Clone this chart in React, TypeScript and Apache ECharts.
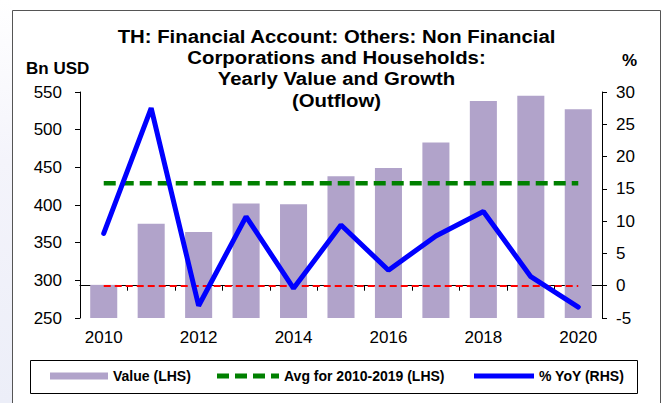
import React, { useEffect, useRef } from "react";
import * as echarts from "echarts";

const categories = ["2010", "2011", "2012", "2013", "2014", "2015", "2016", "2017", "2018", "2019", "2020"];
const valueBn = [294, 375, 364, 402, 401, 438, 449, 483, 538, 545, 527];
const yoyPct = [8.1, 27.5, -3.1, 10.7, -0.4, 9.4, 2.4, 7.7, 11.5, 1.4, -3.3];
const avgValue = 429;
const avgLine = categories.map(() => avgValue);
const leftTicks = { min: 250, max: 550, interval: 50 };
const rightTicks = { min: -5, max: 30, interval: 5 };

const titleText = "TH: Financial Account: Others: Non Financial\nCorporations and Households:\nYearly Value and Growth\n(Outflow)";
const FONT = "'Liberation Sans', Arial, Helvetica, sans-serif";

export default function App() {
  const ref = useRef<HTMLDivElement>(null);
  useEffect(() => {
    if (!ref.current) return;
    const chart = echarts.init(ref.current, null, { renderer: "svg" });
    const legendText = { fontFamily: FONT, fontSize: 14, fontWeight: "bold", color: "#000" };
    chart.setOption({
      animation: false,
      backgroundColor: "#fff",
      grid: { left: 80, right: 65, top: 92, bottom: 85, containLabel: false },
      graphic: [
        {
          type: "rect",
          shape: { x: 0, y: 0, width: 12, height: 403 },
          style: {
            fill: new echarts.graphic.LinearGradient(0, 0, 0, 1, [
              { offset: 0, color: "#ffffff" },
              { offset: 0.4, color: "#f4f4fb" },
              { offset: 1, color: "#eceef8" },
            ]),
          },
          silent: true,
        },
        {
          type: "rect",
          shape: { x: 12.5, y: 10.5, width: 648, height: 420 },
          style: { fill: "none", stroke: "#555", lineWidth: 1 },
          silent: true,
        },
        {
          type: "rect",
          shape: { x: 30.5, y: 360.5, width: 607, height: 33 },
          style: { fill: "none", stroke: "#000", lineWidth: 1 },
          silent: true,
        },
        {
          type: "text",
          x: 336.5,
          y: 25.5,
          scaleX: 1.1,
          style: {
            text: titleText,
            fontFamily: FONT,
            fontSize: 18.5,
            fontWeight: "bold",
            lineHeight: 21.3,
            fill: "#000",
            align: "center",
            verticalAlign: "top",
          },
        },
        {
          type: "text",
          x: 26,
          y: 68,
          style: {
            text: "Bn USD",
            fontFamily: FONT,
            fontSize: 17,
            fontWeight: "bold",
            fill: "#000",
            align: "left",
            verticalAlign: "middle",
          },
        },
        {
          type: "text",
          x: 622,
          y: 60,
          style: {
            text: "%",
            fontFamily: FONT,
            fontSize: 17,
            fontWeight: "bold",
            fill: "#000",
            align: "left",
            verticalAlign: "middle",
          },
        },
      ],
      legend: [
        {
          left: 50,
          top: 369,
          padding: 0,
          itemWidth: 58,
          itemHeight: 7,
          symbolKeepAspect: false,
          textStyle: legendText,
          data: [{ name: "Value (LHS)", icon: "rect", itemStyle: { color: "#b1a3ca", borderWidth: 0 } }],
        },
        {
          left: 217,
          top: 369,
          padding: 0,
          itemWidth: 62,
          itemHeight: 5,
          symbolKeepAspect: false,
          textStyle: legendText,
          data: [
            {
              name: "Avg for 2010-2019 (LHS)",
              icon: "path://M0,0H12V5H0Z M18,0H30V5H18Z M36,0H48V5H36Z M54,0H62V5H54Z",
              itemStyle: { color: "#008000", borderWidth: 0 },
            },
          ],
        },
        {
          left: 474,
          top: 369,
          padding: 0,
          itemWidth: 60,
          itemHeight: 5,
          symbolKeepAspect: false,
          textStyle: legendText,
          data: [{ name: "% YoY (RHS)", icon: "rect", itemStyle: { color: "#0000ff", borderWidth: 0 } }],
        },
      ],
      xAxis: {
        type: "category",
        data: categories,
        boundaryGap: true,
        axisLine: { lineStyle: { color: "#000", width: 1 } },
        axisTick: { show: true, interval: 0, length: 5, lineStyle: { color: "#000" } },
        axisLabel: { interval: 1, margin: 11, fontFamily: FONT, fontSize: 17, color: "#000" },
        splitLine: { show: false },
      },
      yAxis: [
        {
          type: "value",
          position: "left",
          min: leftTicks.min,
          max: leftTicks.max,
          interval: leftTicks.interval,
          axisLine: { show: true, lineStyle: { color: "#000", width: 1 } },
          axisTick: { show: true, length: 5, lineStyle: { color: "#000" } },
          axisLabel: { margin: 18, fontFamily: FONT, fontSize: 17, color: "#000" },
          splitLine: { show: false },
        },
        {
          type: "value",
          position: "right",
          min: rightTicks.min,
          max: rightTicks.max,
          interval: rightTicks.interval,
          axisLine: { show: true, lineStyle: { color: "#000", width: 1 } },
          axisTick: { show: true, length: 5, lineStyle: { color: "#000" } },
          axisLabel: { margin: 14, fontFamily: FONT, fontSize: 17, color: "#000" },
          splitLine: { show: false },
        },
      ],
      series: [
        {
          name: "Value (LHS)",
          type: "bar",
          yAxisIndex: 0,
          data: valueBn,
          barCategoryGap: "43%",
          itemStyle: { color: "#b1a3ca" },
          z: 2,
        },
        {
          name: "Avg for 2010-2019 (LHS)",
          type: "line",
          yAxisIndex: 0,
          data: avgLine,
          symbol: "none",
          lineStyle: { color: "#008000", width: 4.5, type: [12, 6] },
          itemStyle: { color: "#008000" },
          z: 3,
        },
        {
          name: "% YoY (RHS)",
          type: "line",
          yAxisIndex: 1,
          data: yoyPct,
          symbol: "none",
          lineStyle: { color: "#0000ff", width: 5, cap: "round" },
          itemStyle: { color: "#0000ff" },
          z: 4,
          markLine: {
            silent: true,
            symbol: "none",
            z: 3,
            label: { show: false },
            lineStyle: { color: "#ff0000", width: 2, type: [7, 4] },
            data: [[{ coord: ["2010", 0] }, { coord: ["2020", 0] }]],
          },
        },
      ],
    });
    return () => chart.dispose();
  }, []);
  return <div ref={ref} style={{ position: "fixed", left: 0, top: 0, width: 667, height: 403 }} />;
}
